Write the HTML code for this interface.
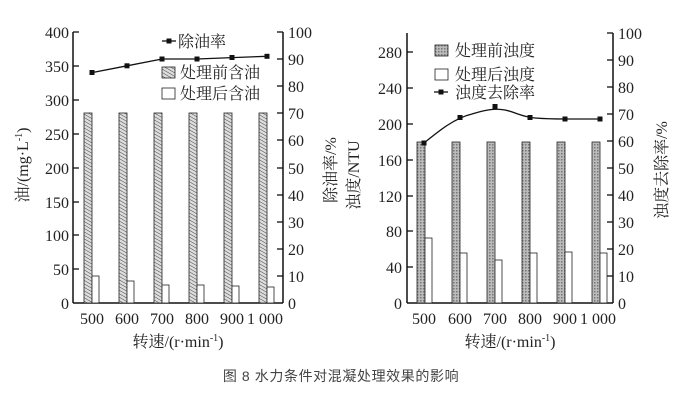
<!DOCTYPE html>
<html><head><meta charset="utf-8"><style>
html,body{margin:0;padding:0;background:#fff;}
svg{display:block;}
.t{font-family:"Liberation Serif","Noto Serif CJK SC",serif;font-size:16px;fill:#222;}
.c{font-family:"Liberation Serif","Noto Serif CJK SC",serif;font-size:16px;fill:#222;}
</style></head><body>
<svg width="699" height="403" viewBox="0 0 699 403" xmlns="http://www.w3.org/2000/svg">
<defs>
<pattern id="hl" width="3" height="3" patternUnits="userSpaceOnUse" patternTransform="rotate(-60)">
<rect width="3" height="3" fill="#ddd"/><line x1="0" y1="0" x2="0" y2="3" stroke="#444" stroke-width="1"/>
</pattern>
<pattern id="hx" width="3" height="3" patternUnits="userSpaceOnUse">
<rect width="3" height="3" fill="#bbb"/><rect width="1.5" height="1.5" fill="#777"/>
</pattern>
</defs>
<rect width="699" height="403" fill="#fff"/>

<!-- LEFT CHART -->
<g stroke="#111" stroke-width="1.5" fill="none">
<line x1="73" y1="32" x2="73" y2="303"/>
<line x1="283" y1="32" x2="283" y2="303"/>
<line x1="73" y1="303" x2="283" y2="303"/>
</g>
<g stroke="#111" stroke-width="1.3">
<line x1="73" y1="32" x2="79" y2="32"/><line x1="73" y1="66" x2="79" y2="66"/><line x1="73" y1="100" x2="79" y2="100"/><line x1="73" y1="134" x2="79" y2="134"/><line x1="73" y1="168" x2="79" y2="168"/><line x1="73" y1="202" x2="79" y2="202"/><line x1="73" y1="235" x2="79" y2="235"/><line x1="73" y1="269" x2="79" y2="269"/>
<line x1="277" y1="32" x2="283" y2="32"/><line x1="277" y1="59" x2="283" y2="59"/><line x1="277" y1="86" x2="283" y2="86"/><line x1="277" y1="113" x2="283" y2="113"/><line x1="277" y1="140" x2="283" y2="140"/><line x1="277" y1="168" x2="283" y2="168"/><line x1="277" y1="195" x2="283" y2="195"/><line x1="277" y1="222" x2="283" y2="222"/><line x1="277" y1="249" x2="283" y2="249"/><line x1="277" y1="276" x2="283" y2="276"/>
</g>
<g class="t" text-anchor="end">
<text x="69" y="38">400</text><text x="69" y="72">350</text><text x="69" y="106">300</text><text x="69" y="140">250</text><text x="69" y="174">200</text><text x="69" y="208">150</text><text x="69" y="241">100</text><text x="69" y="275">50</text><text x="69" y="309">0</text>
</g>
<g class="t">
<text x="288" y="38">100</text><text x="288" y="65">90</text><text x="288" y="92">80</text><text x="288" y="119">70</text><text x="288" y="146">60</text><text x="288" y="174">50</text><text x="288" y="201">40</text><text x="288" y="228">30</text><text x="288" y="255">20</text><text x="288" y="282">10</text><text x="288" y="309">0</text>
</g>
<g class="t" text-anchor="middle">
<text x="92" y="324">500</text><text x="127" y="324">600</text><text x="162" y="324">700</text><text x="197" y="324">800</text><text x="232" y="324">900</text><text x="265" y="324">1 000</text>
</g>
<text class="c" x="178" y="347" text-anchor="middle">转速/(r·min<tspan font-size="10" dy="-6">-1</tspan><tspan dy="6">)</tspan></text>
<text class="c" transform="translate(28,165) rotate(-90)" text-anchor="middle">油/(mg·L<tspan font-size="10" dy="-6">-1</tspan><tspan dy="6">)</tspan></text>
<text class="c" transform="translate(336,170) rotate(-90)" text-anchor="middle">除油率/%</text>
<g stroke="#222" stroke-width="0.8">
<rect x="84" y="113" width="8" height="190" fill="url(#hl)"/><rect x="92" y="276" width="7" height="27" fill="#fff"/>
<rect x="119" y="113" width="8" height="190" fill="url(#hl)"/><rect x="127" y="281" width="7" height="22" fill="#fff"/>
<rect x="154" y="113" width="8" height="190" fill="url(#hl)"/><rect x="162" y="285" width="7" height="18" fill="#fff"/>
<rect x="189" y="113" width="8" height="190" fill="url(#hl)"/><rect x="197" y="285" width="7" height="18" fill="#fff"/>
<rect x="224" y="113" width="8" height="190" fill="url(#hl)"/><rect x="232" y="286" width="7" height="17" fill="#fff"/>
<rect x="259" y="113" width="8" height="190" fill="url(#hl)"/><rect x="267" y="287" width="7" height="16" fill="#fff"/>
</g>
<polyline points="92,72.6 127,65.8 162,59 197,59 232,57.6 267,56.3" fill="none" stroke="#111" stroke-width="1.3"/>
<g fill="#111">
<rect x="89.5" y="70" width="5" height="5"/><rect x="124.5" y="63.3" width="5" height="5"/><rect x="159.5" y="56.5" width="5" height="5"/><rect x="194.5" y="56.5" width="5" height="5"/><rect x="229.5" y="55" width="5" height="5"/><rect x="264.5" y="53.8" width="5" height="5"/>
</g>
<line x1="162" y1="41" x2="176" y2="41" stroke="#111" stroke-width="1.3"/><rect x="166.5" y="38.5" width="5" height="5" fill="#111"/>
<text class="c" x="178" y="47">除油率</text>
<rect x="162" y="67" width="13" height="11" fill="url(#hl)" stroke="#222" stroke-width="0.8"/>
<text class="c" x="180" y="78">处理前含油</text>
<rect x="162" y="88" width="13" height="11" fill="#fff" stroke="#222" stroke-width="0.8"/>
<text class="c" x="180" y="99">处理后含油</text>

<!-- RIGHT CHART -->
<g stroke="#111" stroke-width="1.5" fill="none">
<line x1="407" y1="33" x2="407" y2="303"/>
<line x1="613" y1="33" x2="613" y2="303"/>
<line x1="407" y1="303" x2="613" y2="303"/>
</g>
<g stroke="#111" stroke-width="1.3">
<line x1="407" y1="52" x2="413" y2="52"/><line x1="407" y1="88" x2="413" y2="88"/><line x1="407" y1="124" x2="413" y2="124"/><line x1="407" y1="160" x2="413" y2="160"/><line x1="407" y1="196" x2="413" y2="196"/><line x1="407" y1="231" x2="413" y2="231"/><line x1="407" y1="267" x2="413" y2="267"/>
<line x1="607" y1="33" x2="613" y2="33"/><line x1="607" y1="60" x2="613" y2="60"/><line x1="607" y1="87" x2="613" y2="87"/><line x1="607" y1="114" x2="613" y2="114"/><line x1="607" y1="141" x2="613" y2="141"/><line x1="607" y1="168" x2="613" y2="168"/><line x1="607" y1="195" x2="613" y2="195"/><line x1="607" y1="222" x2="613" y2="222"/><line x1="607" y1="249" x2="613" y2="249"/><line x1="607" y1="276" x2="613" y2="276"/>
</g>
<g class="t" text-anchor="end">
<text x="402" y="58">280</text><text x="402" y="94">240</text><text x="402" y="130">200</text><text x="402" y="166">160</text><text x="402" y="202">120</text><text x="402" y="237">80</text><text x="402" y="273">40</text><text x="402" y="309">0</text>
</g>
<g class="t">
<text x="618" y="39">100</text><text x="618" y="66">90</text><text x="618" y="93">80</text><text x="618" y="120">70</text><text x="618" y="147">60</text><text x="618" y="174">50</text><text x="618" y="201">40</text><text x="618" y="228">30</text><text x="618" y="255">20</text><text x="618" y="282">10</text><text x="618" y="309">0</text>
</g>
<g class="t" text-anchor="middle">
<text x="424" y="324">500</text><text x="460" y="324">600</text><text x="495" y="324">700</text><text x="530" y="324">800</text><text x="565" y="324">900</text><text x="598" y="324">1 000</text>
</g>
<text class="c" x="510" y="347" text-anchor="middle">转速/(r·min<tspan font-size="10" dy="-6">-1</tspan><tspan dy="6">)</tspan></text>
<text class="c" transform="translate(359,175) rotate(-90)" text-anchor="middle">浊度/NTU</text>
<text class="c" transform="translate(667,170) rotate(-90)" text-anchor="middle">浊度去除率/%</text>
<g stroke="#222" stroke-width="0.8">
<rect x="417" y="142" width="8" height="161" fill="url(#hx)"/><rect x="425" y="238" width="7" height="65" fill="#fff"/>
<rect x="452" y="142" width="8" height="161" fill="url(#hx)"/><rect x="460" y="253" width="7" height="50" fill="#fff"/>
<rect x="487" y="142" width="8" height="161" fill="url(#hx)"/><rect x="495" y="260" width="7" height="43" fill="#fff"/>
<rect x="522" y="142" width="8" height="161" fill="url(#hx)"/><rect x="530" y="253" width="7" height="50" fill="#fff"/>
<rect x="557" y="142" width="8" height="161" fill="url(#hx)"/><rect x="565" y="252" width="7" height="51" fill="#fff"/>
<rect x="592" y="142" width="8" height="161" fill="url(#hx)"/><rect x="600" y="253" width="7" height="50" fill="#fff"/>
</g>
<path d="M424,143 C440,130 455,118 472,114 C485,110 495,108 505,110 C515,112 522,117 535,118 C548,119 555,119 565,119 L600,119" fill="none" stroke="#111" stroke-width="1.3"/>
<g fill="#111">
<rect x="421.5" y="140.5" width="5" height="5"/><rect x="457.5" y="115" width="5" height="5"/><rect x="492.5" y="104" width="5" height="5"/><rect x="527.5" y="115" width="5" height="5"/><rect x="562.5" y="116.5" width="5" height="5"/><rect x="597.5" y="116.5" width="5" height="5"/>
</g>
<rect x="435" y="45" width="13" height="11" fill="url(#hx)" stroke="#222" stroke-width="0.8"/>
<text class="c" x="455" y="56">处理前浊度</text>
<rect x="435" y="69" width="13" height="11" fill="#fff" stroke="#222" stroke-width="0.8"/>
<text class="c" x="455" y="80">处理后浊度</text>
<line x1="434" y1="92" x2="448" y2="92" stroke="#111" stroke-width="1.3"/><rect x="438.5" y="89.5" width="5" height="5" fill="#111"/>
<text class="c" x="455" y="98">浊度去除率</text>

<text x="341" y="381" text-anchor="middle" font-family="'Liberation Sans','Noto Sans CJK SC',sans-serif" font-size="14" letter-spacing="0.6" fill="#444">图 8 水力条件对混凝处理效果的影响</text>
</svg>
</body></html>
